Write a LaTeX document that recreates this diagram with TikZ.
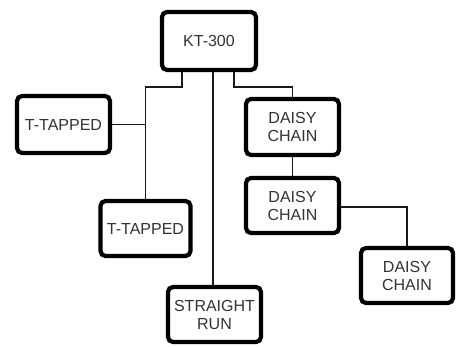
\documentclass[tikz,border=0pt]{standalone}
\usepackage{fontspec}
\setmainfont{Liberation Sans}
\usetikzlibrary{positioning,calc}

\begin{document}
\begin{tikzpicture}[
  x=1pt, y=-1pt,
  font=\fontsize{16}{18}\selectfont,
  unit/.style={draw=black, line width=4.2pt, rounded corners=5pt, align=center,
               text=black!80, inner sep=0pt, minimum width=93pt, minimum height=55pt, fill=white},
  wire/.style={line width=1.6pt, draw=black!90},
]
\useasboundingbox (0,0) rectangle (459,347);
% controller
\node[unit, minimum width=94pt, minimum height=58pt] (kt) at (209,41) {KT-300};
% left branch
\node[unit, minimum height=57pt] (t1) at (63.5,124.5) {T-TAPPED};
\node[unit, minimum width=90pt] (t2) at (145.5,228.5) {T-TAPPED};
% middle branch
\node[unit] (sr) at (214.5,314.5) {STRAIGHT\\RUN};
% right branch
\node[unit, minimum height=56pt] (d1) at (292.5,127) {DAISY\\CHAIN};
\node[unit] (d2) at (292.5,205.5) {DAISY\\CHAIN};
\node[unit, minimum width=92pt] (d3) at (407,275.5) {DAISY\\CHAIN};

% wiring
\draw[wire] ([xshift=-27pt]kt.south) |- ($(t2.north)+(0,-112)$) -- (t2.north);
\draw[wire] (t1.east) -- (t1.east -| t2.north);
\draw[wire] ([xshift=4pt]kt.south) -- (sr.north -| 213,0);
\draw[wire] ([xshift=25pt]kt.south) |- ($(d1.north)+(0,-10)$) -- (d1.north);
\draw[wire] (d1.south) -- (d2.north);
\draw[wire] (d2.east |- 0,207) -| (d3.north);
\end{tikzpicture}
\end{document}
